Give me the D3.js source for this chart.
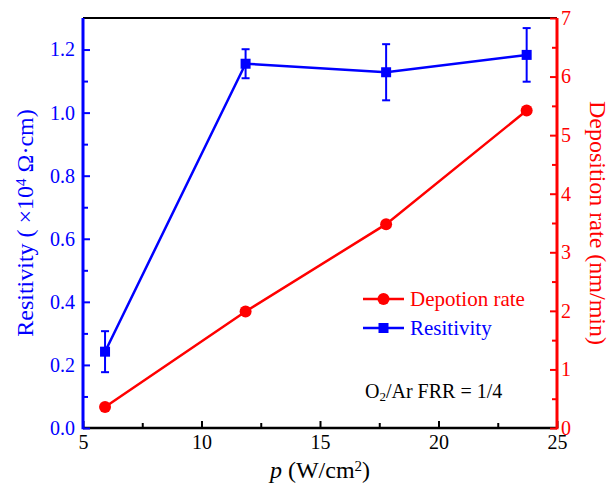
<!DOCTYPE html>
<html>
<head>
<meta charset="utf-8">
<script src="https://cdn.jsdelivr.net/npm/d3@7"></script>
<style>
  body { margin: 0; background: #fff; }
  svg { display: block; }
</style>
</head>
<body>
<div id="chart"></div>
<script>
// data
const power = [5.93, 11.86, 17.79, 23.72];
const resistivity = [0.242, 1.155, 1.128, 1.183];
const resistivityErr = [0.065, 0.046, 0.089, 0.085];
const depositionRate = [0.36, 1.99, 3.48, 5.42];

const xTicks = [5, 10, 15, 20, 25];
const xMinor = [7.5, 12.5, 17.5, 22.5];
const leftTicks = [0, 0.2, 0.4, 0.6, 0.8, 1.0, 1.2];
const leftMinor = [0.1, 0.3, 0.5, 0.7, 0.9, 1.1];
const rightTicks = [0, 1, 2, 3, 4, 5, 6, 7];
const rightMinor = [0.5, 1.5, 2.5, 3.5, 4.5, 5.5, 6.5];

const width = 611, height = 489;
const margin = {left: 83, right: 54, top: 18, bottom: 61};
const font = '"Liberation Serif", "Times New Roman", serif';
const blue = '#0000ff', red = '#ff0000';

const svg = d3.select('#chart').append('svg')
  .attr('width', width)
  .attr('height', height)
  .attr('font-family', font);

const x = d3.scaleLinear().domain([5, 25]).range([margin.left, width - margin.right]);
const yL = d3.scaleLinear().domain([0, 1.3]).range([height - margin.bottom, margin.top]);
const yR = d3.scaleLinear().domain([0, 7]).range([height - margin.bottom, margin.top]);

const x0 = margin.left, x1 = width - margin.right;
const y0 = height - margin.bottom, y1 = margin.top;

function styleAxis(g, color, size) {
  g.select('.domain').remove();
  g.selectAll('line').attr('stroke', color).attr('stroke-width', 2);
  g.selectAll('text').attr('fill', color).attr('font-size', size).attr('font-family', font);
}

// top frame
svg.append('line')
  .attr('x1', x0).attr('x2', x1).attr('y1', y1).attr('y2', y1)
  .attr('stroke', '#000').attr('stroke-width', 2);

// bottom axis
const gx = svg.append('g').attr('transform', `translate(0,${y0})`)
  .call(d3.axisBottom(x).tickValues(xTicks).tickSizeInner(-7).tickSizeOuter(0).tickPadding(7));
styleAxis(gx, '#000', 20);
const gxm = svg.append('g').attr('transform', `translate(0,${y0})`)
  .call(d3.axisBottom(x).tickValues(xMinor).tickSizeInner(-5).tickSizeOuter(0).tickFormat(''));
styleAxis(gxm, '#000', 20);
svg.append('line')
  .attr('x1', x0).attr('x2', x1).attr('y1', y0).attr('y2', y0)
  .attr('stroke', '#000').attr('stroke-width', 2.5);

// left axis
const gl = svg.append('g').attr('transform', `translate(${x0},0)`)
  .call(d3.axisLeft(yL).tickValues(leftTicks).tickFormat(d3.format('.1f')).tickSizeInner(-7).tickSizeOuter(0).tickPadding(8));
styleAxis(gl, blue, 20);
const glm = svg.append('g').attr('transform', `translate(${x0},0)`)
  .call(d3.axisLeft(yL).tickValues(leftMinor).tickSizeInner(-5).tickSizeOuter(0).tickFormat(''));
styleAxis(glm, blue, 20);
svg.append('line')
  .attr('x1', x0).attr('x2', x0).attr('y1', y1).attr('y2', y0 + 1.25)
  .attr('stroke', blue).attr('stroke-width', 3);

// right axis
const gr = svg.append('g').attr('transform', `translate(${x1},0)`)
  .call(d3.axisRight(yR).tickValues(rightTicks).tickFormat(d3.format('d')).tickSizeInner(-7).tickSizeOuter(0).tickPadding(4));
styleAxis(gr, red, 20);
const grm = svg.append('g').attr('transform', `translate(${x1},0)`)
  .call(d3.axisRight(yR).tickValues(rightMinor).tickSizeInner(-5).tickSizeOuter(0).tickFormat(''));
styleAxis(grm, red, 20);
svg.append('line')
  .attr('x1', x1).attr('x2', x1).attr('y1', y1).attr('y2', y0 + 1.25)
  .attr('stroke', red).attr('stroke-width', 3);

// axis titles
const lt = svg.append('text')
  .attr('transform', `translate(33,${(y0 + y1) / 2}) rotate(-90)`)
  .attr('text-anchor', 'middle')
  .attr('fill', blue)
  .attr('font-size', 24);
lt.append('tspan').text('Resitivity ( \u00d710');
lt.append('tspan').attr('baseline-shift', '45%').attr('font-size', 15).text('4');
lt.append('tspan').text(' \u03a9\u00b7cm)');

svg.append('text')
  .attr('transform', `translate(590,${(y0 + y1) / 2}) rotate(90)`)
  .attr('text-anchor', 'middle')
  .attr('fill', red)
  .attr('font-size', 24)
  .text('Deposition rate (nm/min)');

const xt = svg.append('text')
  .attr('x', (x0 + x1) / 2)
  .attr('y', 478)
  .attr('text-anchor', 'middle')
  .attr('fill', '#000')
  .attr('font-size', 24);
xt.append('tspan').attr('font-style', 'italic').text('p');
xt.append('tspan').text(' (W/cm');
xt.append('tspan').attr('baseline-shift', '45%').attr('font-size', 15).text('2');
xt.append('tspan').text(')');

// deposition rate series
const rateLine = d3.line().x((d, i) => x(power[i])).y(d => yR(d));
svg.append('path')
  .datum(depositionRate)
  .attr('d', rateLine)
  .attr('fill', 'none')
  .attr('stroke', red)
  .attr('stroke-width', 2.5);
svg.selectAll('.rate-dot')
  .data(depositionRate)
  .enter().append('circle')
  .attr('class', 'rate-dot')
  .attr('cx', (d, i) => x(power[i]))
  .attr('cy', d => yR(d))
  .attr('r', 6)
  .attr('fill', red);

// resistivity series
const resLine = d3.line().x((d, i) => x(power[i])).y(d => yL(d));
svg.append('path')
  .datum(resistivity)
  .attr('d', resLine)
  .attr('fill', 'none')
  .attr('stroke', blue)
  .attr('stroke-width', 2.5);

const err = svg.append('g').attr('stroke', blue).attr('stroke-width', 2);
resistivity.forEach((v, i) => {
  const cx = x(power[i]);
  const top = yL(v + resistivityErr[i]);
  const bot = yL(v - resistivityErr[i]);
  err.append('line').attr('x1', cx).attr('x2', cx).attr('y1', top).attr('y2', bot);
  err.append('line').attr('x1', cx - 4).attr('x2', cx + 4).attr('y1', top).attr('y2', top);
  err.append('line').attr('x1', cx - 4).attr('x2', cx + 4).attr('y1', bot).attr('y2', bot);
});

svg.selectAll('.res-sq')
  .data(resistivity)
  .enter().append('rect')
  .attr('class', 'res-sq')
  .attr('x', (d, i) => x(power[i]) - 5)
  .attr('y', d => yL(d) - 5)
  .attr('width', 10)
  .attr('height', 10)
  .attr('fill', blue);

// legend
const leg = svg.append('g').attr('font-size', 21);
leg.append('line').attr('x1', 363).attr('x2', 404).attr('y1', 299).attr('y2', 299)
  .attr('stroke', red).attr('stroke-width', 2.5);
leg.append('circle').attr('cx', 383.5).attr('cy', 299).attr('r', 6).attr('fill', red);
leg.append('text').attr('x', 410).attr('y', 306).attr('fill', red).text('Depotion rate');

leg.append('line').attr('x1', 363).attr('x2', 404).attr('y1', 328).attr('y2', 328)
  .attr('stroke', blue).attr('stroke-width', 2.5);
leg.append('rect').attr('x', 378.5).attr('y', 323).attr('width', 10).attr('height', 10).attr('fill', blue);
leg.append('text').attr('x', 410).attr('y', 335).attr('fill', blue).text('Resitivity');

const note = svg.append('text')
  .attr('x', 365).attr('y', 398)
  .attr('font-size', 20)
  .attr('fill', '#000');
note.append('tspan').text('O');
note.append('tspan').attr('baseline-shift', '-25%').attr('font-size', 13).text('2');
note.append('tspan').text('/Ar FRR = 1/4');
</script>
</body>
</html>
